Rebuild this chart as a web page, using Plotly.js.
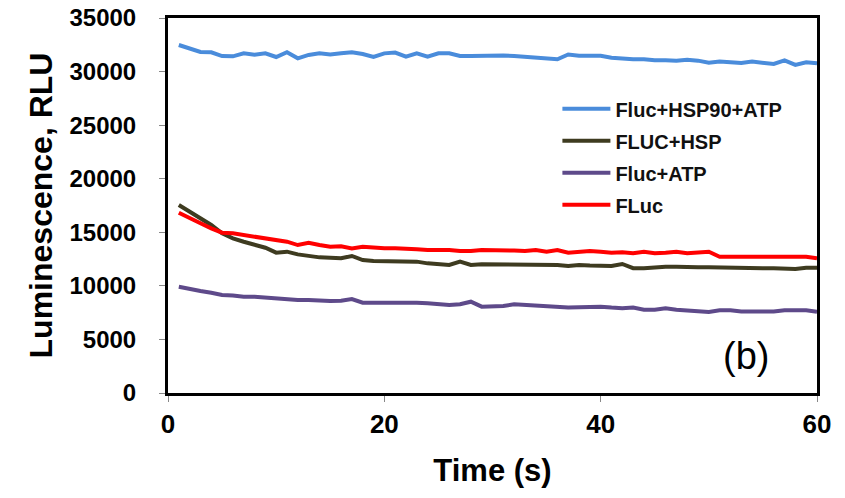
<!DOCTYPE html>
<html>
<head>
<meta charset="utf-8">
<script src="https://cdn.plot.ly/plotly-3.0.1.min.js"></script>
<style>html,body{margin:0;padding:0;background:#fff;}#chart{width:845px;height:498px;}</style>
</head>
<body>
<div id="chart"></div>
<script>
var time = [];
for (var i = 1; i <= 60; i++) time.push(i);

var seriesNames = ["Fluc+HSP90+ATP", "FLUC+HSP", "Fluc+ATP", "FLuc"];

var flucHsp90Atp = [32480,32110,31830,31800,31450,31420,31700,31580,31700,31360,
  31800,31240,31550,31700,31600,31700,31800,31640,31360,31700,
  31770,31390,31700,31390,31700,31700,31450,31450,31480,31550,
  31500,31450,31360,31300,31240,31150,31600,31480,31480,31480,
  31300,31180,31150,31150,31050,31050,31020,31100,31020,30820,
  30930,30870,30800,30930,30840,30710,31050,30620,30870,30770];

var flucHsp = [17550,16920,16300,15680,14900,14440,14120,13810,13560,13100,
  13190,12940,12790,12660,12630,12570,12790,12410,12320,12320,
  12320,12320,12260,12100,12010,11950,12260,11950,12010,12010,
  11950,12040,12010,12010,12040,11950,11860,11950,11890,11890,
  11860,12040,11650,11650,11730,11790,11790,11730,11730,11730,
  11700,11700,11700,11650,11650,11650,11580,11580,11700,11700];

var flucAtp = [9920,9680,9520,9360,9150,9100,8990,8990,8900,8850,
  8770,8680,8680,8610,8590,8610,8770,8430,8430,8430,
  8520,8430,8430,8370,8280,8210,8280,8520,8060,8060,
  8120,8280,8210,8150,8060,8000,7970,8000,8060,8060,
  7970,7910,7970,7780,7780,7910,7780,7720,7720,7570,
  7720,7720,7600,7570,7570,7600,7720,7720,7720,7570];

var fluc = [16830,16300,15840,15370,14960,14900,14750,14590,14500,14280,
  14120,13810,14030,13810,13650,13700,13500,13650,13560,13500,
  13500,13500,13410,13350,13350,13350,13250,13250,13350,13350,
  13300,13300,13250,13350,13190,13350,13100,13190,13250,13190,
  13100,13130,13040,13190,13040,13100,13190,13040,13100,13190,
  12720,12720,12780,12780,12780,12780,12720,12720,12720,12570];

var yTicks = [0,5000,10000,15000,20000,25000,30000,35000];
var xTicks = [0,20,40,60];

var colors = ["#4A8CDB", "#3E3B20", "#5E4A8A", "#FF0000"];
var allY = [flucHsp90Atp, flucHsp, flucAtp, fluc];

var traces = allY.map(function (ys, k) {
  return {
    x: time, y: ys, type: "scatter", mode: "lines",
    name: seriesNames[k], legendgroup: "g" + k,
    line: {color: colors[k], width: 4}
  };
});

var FONT = "'Liberation Sans', Arial, sans-serif";

var layout = {
  width: 845, height: 498,
  margin: {l: 168, r: 28, t: 18, b: 105},
  paper_bgcolor: "#fff", plot_bgcolor: "#fff",
  font: {family: FONT, color: "#000"},
  showlegend: true,
  legend: {
    x: 0.60, y: 0.81, xanchor: "left", yanchor: "top",
    bgcolor: "rgba(0,0,0,0)", traceorder: "grouped", tracegroupgap: 3,
    font: {family: FONT, size: 20, color: "#111", weight: "bold"},
    itemwidth: 48
  },
  xaxis: {
    range: [0, 60], tickvals: xTicks, ticktext: xTicks.map(String),
    showgrid: false, zeroline: false,
    showline: true, mirror: true, linecolor: "#000", linewidth: 3,
    ticks: "outside", ticklen: 6, tickwidth: 1, tickcolor: "#888",
    ticklabelstandoff: 0,
    tickfont: {family: FONT, size: 26, color: "#000", weight: "bold"},
    title: {text: "Time (s)", standoff: 22, font: {family: FONT, size: 31, color: "#000", weight: "bold"}}
  },
  yaxis: {
    range: [0, 35000], tickvals: yTicks, ticktext: yTicks.map(String),
    showgrid: false, zeroline: false,
    showline: true, mirror: true, linecolor: "#000", linewidth: 3,
    ticks: "outside", ticklen: 6, tickwidth: 1, tickcolor: "#888",
    ticklabelstandoff: 18,
    tickfont: {family: FONT, size: 24, color: "#000", weight: "bold"},
    title: {text: "Luminescence, RLU", standoff: 8, font: {family: FONT, size: 32, color: "#000", weight: "bold"}}
  },
  annotations: [{
    xref: "paper", yref: "paper", x: 0.89, y: 0.1, xanchor: "center", yanchor: "middle",
    text: "(b)", showarrow: false, font: {family: FONT, size: 38, color: "#000"}
  }]
};

Plotly.newPlot("chart", traces, layout, {displayModeBar: false, staticPlot: true});
</script>
</body>
</html>
